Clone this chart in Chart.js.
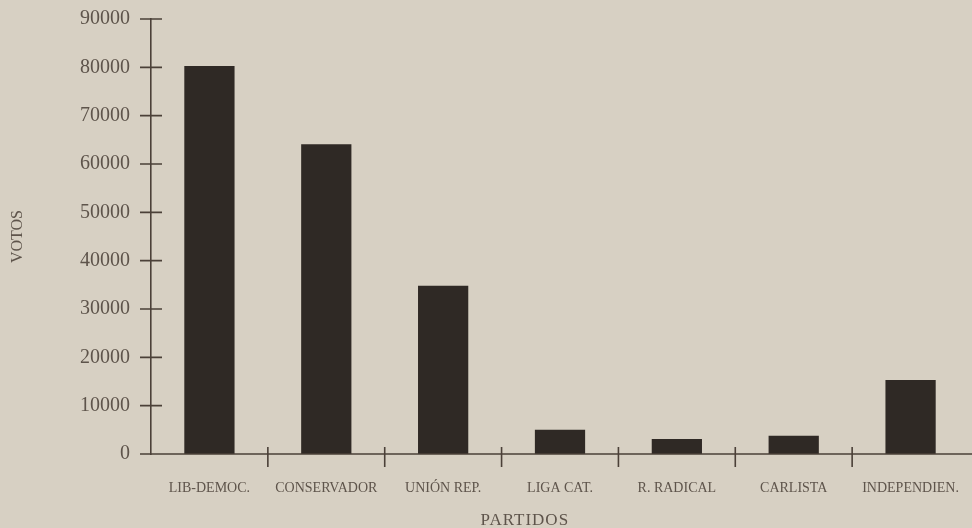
<!DOCTYPE html>
<html>
<head>
<meta charset="utf-8">
<script src="https://cdn.jsdelivr.net/npm/chart.js@4"></script>
<style>
  html, body { margin: 0; padding: 0; background: #d7d0c3; }
  #wrap { width: 972px; height: 528px; position: relative; }
</style>
</head>
<body>
<div id="wrap"><canvas id="myChart" width="972" height="528"></canvas></div>
<script>
const partidos = ['LIB-DEMOC.', 'CONSERVADOR', 'UNIÓN REP.', 'LIGA CAT.', 'R. RADICAL', 'CARLISTA', 'INDEPENDIEN.'];
const votos = [80300, 64100, 34800, 5000, 3100, 3800, 15300];
const yTicks = [0, 10000, 20000, 30000, 40000, 50000, 60000, 70000, 80000, 90000];

const inkColor = '#4b4038';
const textColor = '#5e544b';
const barColor = '#2f2925';

// tick marks that cross the axis lines, like the printed figure
const crossTicks = {
    id: 'crossTicks',
    afterDraw(chart) {
        const ctx = chart.ctx;
        const x = chart.scales.x;
        const y = chart.scales.y;
        ctx.save();
        ctx.strokeStyle = inkColor;
        ctx.lineWidth = 1.6;
        ctx.beginPath();
        yTicks.forEach(v => {
            const py = y.getPixelForValue(v);
            ctx.moveTo(x.left - 11, py);
            ctx.lineTo(x.left + 11, py);
        });
        for (let i = 1; i < partidos.length; i++) {
            const px = (x.getPixelForValue(i - 1) + x.getPixelForValue(i)) / 2;
            ctx.moveTo(px, y.bottom - 7);
            ctx.lineTo(px, y.bottom + 13);
        }
        ctx.moveTo(x.left - 8, y.bottom);
        ctx.lineTo(chart.width, y.bottom);
        ctx.stroke();

        // x axis title
        ctx.fillStyle = textColor;
        ctx.font = '17px "Liberation Serif", serif';
        ctx.letterSpacing = '1px';
        ctx.textAlign = 'center';
        ctx.textBaseline = 'middle';
        ctx.fillText('PARTIDOS', x.left + (x.right - x.left) * 0.457, 521);
        ctx.restore();
    }
};

const ctx = document.getElementById('myChart').getContext('2d');
const chartInstance = new Chart(ctx, {
    type: 'bar',
    data: {
        labels: partidos,
        datasets: [{
            label: 'Votos',
            data: votos,
            backgroundColor: barColor,
            borderWidth: 0,
            categoryPercentage: 1,
            barPercentage: 0.43
        }]
    },
    options: {
        responsive: false,
        animation: false,
        layout: { padding: { top: 19, right: 3, left: 0, bottom: 0 } },
        plugins: {
            legend: { display: false },
            tooltip: { enabled: false }
        },
        scales: {
            x: {
                grid: { display: false, drawTicks: false },
                border: { display: false },
                ticks: {
                    color: textColor,
                    font: { family: '"Liberation Serif", serif', size: 14 },
                    padding: 26,
                    maxRotation: 0,
                    autoSkip: false
                },
                afterFit: s => {
                    s.height = 74;
                    s.paddingLeft = 0;
                    s.paddingRight = 0;
                }
            },
            y: {
                min: 0,
                max: 90000,
                grid: { display: false, drawTicks: false },
                border: { display: true, color: inkColor, width: 1.6 },
                ticks: {
                    stepSize: 10000,
                    color: textColor,
                    font: { family: '"Liberation Serif", serif', size: 20 },
                    padding: 21,
                    callback: v => String(v)
                },
                title: {
                    display: true,
                    text: 'VOTOS',
                    color: textColor,
                    font: { family: '"Liberation Serif", serif', size: 16 },
                    padding: { top: 8, bottom: 0 }
                },
                afterFit: s => {
                    s.width = 151;
                    s.paddingTop = 0;
                    s.paddingBottom = 0;
                }
            }
        }
    },
    plugins: [crossTicks]
});
</script>
</body>
</html>
